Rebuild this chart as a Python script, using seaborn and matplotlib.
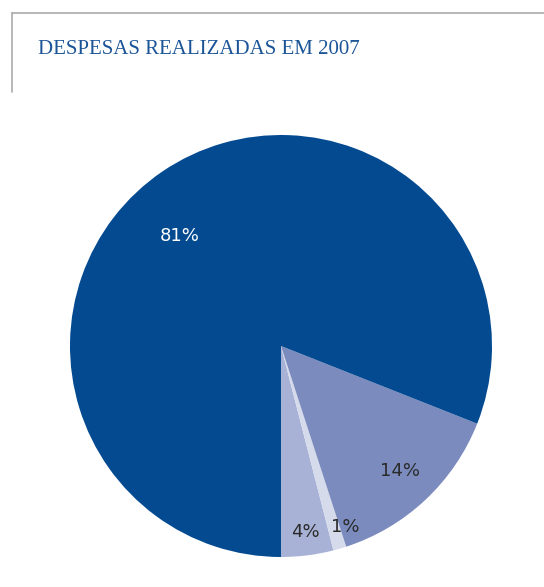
import numpy as np
import matplotlib.pyplot as plt
import seaborn as sns
from matplotlib.lines import Line2D

# Data (slices go counter-clockwise starting at the bottom)
labels = ['4%', '1%', '14%', '81%']
values = [4, 1, 14, 81]
colors = ['#a8b2d6', '#d5dbeb', '#7b8bbe', '#034a91']
text_colors = ['#2a2a2a', '#2a2a2a', '#2a2a2a', '#ffffff']

title = 'DESPESAS REALIZADAS EM 2007'

# label placement: (angle in degrees, radius fraction)
label_pos = [(-82.6, 0.89), (-70.5, 0.91), (-46.4, 0.82), (132.5, 0.71)]

sns.set_theme(style="white")
plt.rcParams['font.family'] = ['DejaVu Sans']

fig = plt.figure(figsize=(5.44, 5.87), dpi=100)
ax = fig.add_axes([70 / 544, 30 / 587, 422 / 544, 422 / 587])

ax.pie(values, colors=colors, startangle=270, counterclock=True,
       radius=1.0, wedgeprops=dict(linewidth=0))
ax.set_xlim(-1, 1)
ax.set_ylim(-1, 1)
ax.set_aspect('equal')
ax.axis('off')

for lab, (ang, r), tc in zip(labels, label_pos, text_colors):
    a = np.deg2rad(ang)
    ax.text(r * np.cos(a), r * np.sin(a), lab, ha='center', va='center',
            fontsize=13, color=tc, fontweight='medium')

# frame lines at top-left
fig.add_artist(Line2D([12 / 544, 1.0], [1 - 13 / 587, 1 - 13 / 587],
                      color='#aaaaaa', linewidth=1.2))
fig.add_artist(Line2D([12 / 544, 12 / 544], [1 - 13 / 587, 1 - 92 / 587],
                      color='#aaaaaa', linewidth=1.2))

fig.text(38 / 544, 1 - 54 / 587, title, ha='left', va='baseline',
         fontsize=15, color='#1b5597', family=['Liberation Serif'])

fig.savefig('out.png', dpi=100)
